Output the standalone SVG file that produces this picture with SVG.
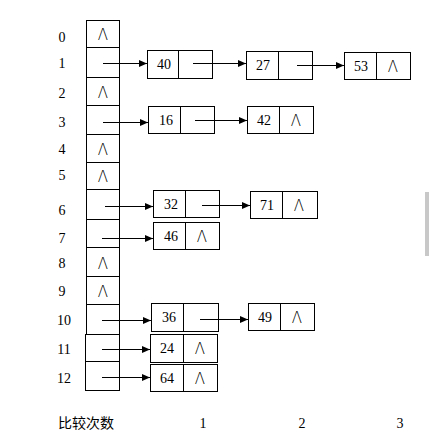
<svg xmlns="http://www.w3.org/2000/svg" width="430" height="447" viewBox="0 0 430 447">
<defs>
<marker id="ah" markerWidth="8" markerHeight="7" refX="8" refY="3.5" orient="auto" markerUnits="userSpaceOnUse">
<path d="M0,0 L8,3.5 L0,7 Z" fill="#000"/>
</marker>
</defs>
<style>
rect.b{fill:#fff;stroke:#000;stroke-width:1}
line.d{stroke:#000;stroke-width:1}
.t{font-family:"Liberation Serif","Times New Roman",serif;font-size:14px;fill:#000}
.nul{font-family:"DejaVu Sans","Liberation Sans",sans-serif;font-weight:200;font-size:15px;fill:#000}
.c{stroke:#000;stroke-width:1;fill:none;marker-end:url(#ah)}
.lab{font-family:"Noto Sans CJK SC","Liberation Serif",serif;font-size:14px;fill:#000}
</style>
<rect width="430" height="447" fill="#fff"/>
<rect x="425" y="192" width="4" height="64" fill="#c8c8c8"/>

<g id="table">
<rect class="b" x="86.5" y="20.5" width="33" height="27"/>
<rect class="b" x="86.5" y="47.5" width="33" height="30"/>
<rect class="b" x="86.5" y="77.5" width="33" height="28"/>
<rect class="b" x="86.5" y="105.5" width="33" height="29"/>
<rect class="b" x="86.5" y="134.5" width="33" height="28"/>
<rect class="b" x="86.5" y="162.5" width="33" height="27"/>
<rect class="b" x="86.5" y="189.5" width="33" height="30"/>
<rect class="b" x="86.5" y="219.5" width="33" height="28"/>
<rect class="b" x="86.5" y="247.5" width="33" height="29"/>
<rect class="b" x="86.5" y="276.5" width="33" height="28"/>
<rect class="b" x="86.5" y="304.5" width="33" height="30"/>
<rect class="b" x="85.5" y="334.5" width="34" height="27"/>
<rect class="b" x="85.5" y="361.5" width="34" height="29"/>
<text class="nul" x="103" y="40" text-anchor="middle">Λ</text>
<text class="nul" x="103" y="98" text-anchor="middle">Λ</text>
<text class="nul" x="103" y="155" text-anchor="middle">Λ</text>
<text class="nul" x="103" y="182" text-anchor="middle">Λ</text>
<text class="nul" x="103" y="269" text-anchor="middle">Λ</text>
<text class="nul" x="103" y="297" text-anchor="middle">Λ</text>
</g>

<g id="indices" class="t">
<text x="62" y="42" text-anchor="middle">0</text>
<text x="62" y="68" text-anchor="middle">1</text>
<text x="62" y="98" text-anchor="middle">2</text>
<text x="62" y="127" text-anchor="middle">3</text>
<text x="62" y="154" text-anchor="middle">4</text>
<text x="62" y="180" text-anchor="middle">5</text>
<text x="62" y="215" text-anchor="middle">6</text>
<text x="62" y="243" text-anchor="middle">7</text>
<text x="62" y="268" text-anchor="middle">8</text>
<text x="62" y="296" text-anchor="middle">9</text>
<text x="64" y="325" text-anchor="middle">10</text>
<text x="64" y="354" text-anchor="middle">11</text>
<text x="64" y="383" text-anchor="middle">12</text>
</g>

<g id="n40"><rect class="b" x="147.5" y="50.5" width="65" height="28"/><line class="d" x1="178.5" y1="50" x2="178.5" y2="79"/><text class="t" x="164" y="69" text-anchor="middle">40</text></g>
<g id="n27"><rect class="b" x="246.5" y="51.5" width="66" height="28"/><line class="d" x1="278.5" y1="51" x2="278.5" y2="80"/><text class="t" x="263" y="70" text-anchor="middle">27</text></g>
<g id="n53"><rect class="b" x="344.5" y="52.5" width="66" height="27"/><line class="d" x1="376.5" y1="52" x2="376.5" y2="80"/><text class="t" x="361" y="71" text-anchor="middle">53</text><text class="nul" x="393" y="72" text-anchor="middle">Λ</text></g>

<g id="n16"><rect class="b" x="148.5" y="106.5" width="66" height="27"/><line class="d" x1="180.5" y1="106" x2="180.5" y2="134"/><text class="t" x="166" y="125" text-anchor="middle">16</text></g>
<g id="n42"><rect class="b" x="247.5" y="106.5" width="66" height="27"/><line class="d" x1="279.5" y1="106" x2="279.5" y2="134"/><text class="t" x="264" y="125" text-anchor="middle">42</text><text class="nul" x="296" y="126" text-anchor="middle">Λ</text></g>

<g id="n32"><rect class="b" x="153.5" y="190.5" width="66" height="27"/><line class="d" x1="185.5" y1="190" x2="185.5" y2="218"/><text class="t" x="171" y="209" text-anchor="middle">32</text></g>
<g id="n71"><rect class="b" x="250.5" y="191.5" width="67" height="27"/><line class="d" x1="282.5" y1="191" x2="282.5" y2="219"/><text class="t" x="267" y="210" text-anchor="middle">71</text><text class="nul" x="299" y="211" text-anchor="middle">Λ</text></g>

<g id="n46"><rect class="b" x="153.5" y="222.5" width="66" height="27"/><line class="d" x1="185.5" y1="222" x2="185.5" y2="250"/><text class="t" x="171" y="241" text-anchor="middle">46</text><text class="nul" x="202" y="242" text-anchor="middle">Λ</text></g>

<g id="n36"><rect class="b" x="151.5" y="303.5" width="67" height="28"/><line class="d" x1="183.5" y1="303" x2="183.5" y2="332"/><text class="t" x="169" y="322" text-anchor="middle">36</text></g>
<g id="n49"><rect class="b" x="248.5" y="303.5" width="66" height="27"/><line class="d" x1="280.5" y1="303" x2="280.5" y2="331"/><text class="t" x="265" y="322" text-anchor="middle">49</text><text class="nul" x="297" y="323" text-anchor="middle">Λ</text></g>

<g id="n24"><rect class="b" x="150.5" y="334.5" width="67" height="28"/><line class="d" x1="183.5" y1="334" x2="183.5" y2="363"/><text class="t" x="167" y="353" text-anchor="middle">24</text><text class="nul" x="200" y="354" text-anchor="middle">Λ</text></g>
<g id="n64"><rect class="b" x="150.5" y="364.5" width="67" height="27"/><line class="d" x1="183.5" y1="364" x2="183.5" y2="392"/><text class="t" x="167" y="383" text-anchor="middle">64</text><text class="nul" x="200" y="384" text-anchor="middle">Λ</text></g>

<g id="connectors">
<line class="c" x1="103" y1="63.5" x2="147" y2="63.5"/>
<line class="c" x1="193" y1="63.5" x2="246" y2="63.5"/>
<line class="c" x1="297" y1="65.5" x2="344" y2="65.5"/>
<line class="c" x1="103" y1="122.5" x2="148" y2="122.5"/>
<line class="c" x1="195" y1="120.5" x2="247" y2="120.5"/>
<line class="c" x1="105" y1="206.5" x2="153" y2="206.5"/>
<line class="c" x1="202" y1="205.5" x2="250" y2="205.5"/>
<line class="c" x1="102" y1="238.5" x2="153" y2="238.5"/>
<line class="c" x1="102" y1="320.5" x2="151" y2="320.5"/>
<line class="c" x1="200" y1="319.5" x2="248" y2="319.5"/>
<line class="c" x1="102" y1="349.5" x2="150" y2="349.5"/>
<line class="c" x1="102" y1="377.5" x2="150" y2="377.5"/>
</g>

<g id="footer">
<text class="lab" x="58" y="428">比较次数</text>
<text class="t" x="203" y="428" text-anchor="middle">1</text>
<text class="t" x="302" y="428" text-anchor="middle">2</text>
<text class="t" x="400" y="428" text-anchor="middle">3</text>
</g>
</svg>
